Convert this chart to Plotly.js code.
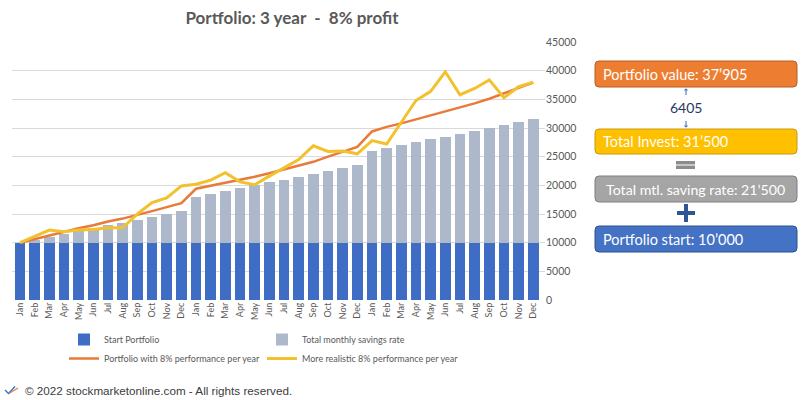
<!DOCTYPE html>
<html>
<head>
<meta charset="utf-8">
<script src="https://cdn.plot.ly/plotly-3.0.1.min.js"></script>
<style>html,body{margin:0;padding:0;background:#fff;}#chart{width:809px;height:400px;}</style>
</head>
<body>
<div id="chart"></div>
<script>
// ---- data ----
const months = ['Jan','Feb','Mar','Apr','May','Jun','Jul','Aug','Sep','Oct','Nov','Dec'];
const tickLabels = months.concat(months, months);
const startPortfolio = [10000,10000,10000,10000,10000,10000,10000,10000,10000,10000,10000,10000,
                        10000,10000,10000,10000,10000,10000,10000,10000,10000,10000,10000,10000,
                        10000,10000,10000,10000,10000,10000,10000,10000,10000,10000,10000,10000];
const monthlySavings = [0,500,1000,1500,2000,2500,3000,3500,4000,4500,5000,5500,
                        8000,8500,9000,9500,10000,10500,11000,11500,12000,12500,13000,13500,
                        16000,16500,17000,17500,18000,18500,19000,19500,20000,20500,21000,21500];
const perf8 = [10000,10650,11300,11900,12500,13050,13700,14200,14800,15500,16200,16900,
               19400,19900,20400,20900,21500,22100,22800,23400,24100,25000,25900,26700,
               29400,30200,30800,31500,32200,32900,33500,34300,35100,36100,37000,37905];
const realistic8 = [10000,11100,12200,11900,12200,12300,12600,12600,15000,17000,17800,19900,
                    20200,20900,22200,20600,20100,21600,23100,24500,26900,25900,26000,25500,
                    27800,27200,31000,34800,36400,39800,35800,36900,38400,35300,37200,38000];
const seriesNames = ['Start Portfolio','Total monthly savings rate','Portfolio with 8% performance per year','More realistic 8% performance per year'];
const boxTexts = ['Portfolio value: 37’905','Total Invest: 31’500','Total mtl. saving rate: 21’500','Portfolio start: 10’000'];
const diffText = '6405';

const xs = tickLabels.map((_, i) => i);

// ---- pixel helpers for decorations ----
const L = 12, R = 545, T = 42, B = 300;
const px = x => (x - L) / (R - L);
const py = y => (B - y) / (B - T);
function roundRect(x0, y0, x1, y1, r) {
  const P = (x, y) => px(x) + ',' + py(y);
  return 'M' + P(x0 + r, y0) + ' L' + P(x1 - r, y0) + ' Q' + P(x1, y0) + ' ' + P(x1, y0 + r) +
    ' L' + P(x1, y1 - r) + ' Q' + P(x1, y1) + ' ' + P(x1 - r, y1) +
    ' L' + P(x0 + r, y1) + ' Q' + P(x0, y1) + ' ' + P(x0, y1 - r) +
    ' L' + P(x0, y0 + r) + ' Q' + P(x0, y0) + ' ' + P(x0 + r, y0) + ' Z';
}
function rect(x0, y0, x1, y1, color) {
  return {type: 'rect', xref: 'paper', yref: 'paper', x0: px(x0), x1: px(x1), y0: py(y1), y1: py(y0),
          fillcolor: color, line: {width: 0}, layer: 'above'};
}
function line(pts, color, w) {
  let d = pts.map((p, i) => (i ? 'L' : 'M') + px(p[0]) + ',' + py(p[1])).join(' ');
  return {type: 'path', xref: 'paper', yref: 'paper', path: d, line: {color: color, width: w}, layer: 'above'};
}

const boxes = [
  {y0: 61, y1: 87, fill: '#ED7D31', border: '#B55E24'},
  {y0: 129, y1: 154, fill: '#FFC000', border: '#C89A10'},
  {y0: 176, y1: 202, fill: '#A5A5A5', border: '#7F7F7F'},
  {y0: 226, y1: 252, fill: '#4472C4', border: '#2F528F'}
];

const shapes = [];
const annotations = [];
boxes.forEach((b, i) => {
  shapes.push({type: 'path', xref: 'paper', yref: 'paper', path: roundRect(595, b.y0, 797, b.y1, 4),
               fillcolor: b.fill, line: {color: b.border, width: 1}, layer: 'above'});
  annotations.push({xref: 'paper', yref: 'paper', x: px(i === 2 ? 604 : 601), y: py((b.y0 + b.y1) / 2),
                    xanchor: 'left', yanchor: 'middle', showarrow: false, text: boxTexts[i],
                    font: {family: 'Lato, sans-serif', size: i === 2 ? 14.2 : 14.5, color: '#ffffff'}});
});
// small arrows
shapes.push(line([[686, 89], [686, 95]], '#5B7FC4', 1.2));
shapes.push(line([[684.5, 90.5], [686, 89], [687.5, 90.5]], '#5B7FC4', 1.2));
shapes.push(line([[686, 121], [686, 127]], '#5B7FC4', 1.2));
shapes.push(line([[684.5, 125.5], [686, 127], [687.5, 125.5]], '#5B7FC4', 1.2));
annotations.push({xref: 'paper', yref: 'paper', x: px(686), y: py(107), xanchor: 'center', yanchor: 'middle',
                  showarrow: false, text: diffText, font: {family: 'Lato, sans-serif', size: 14, color: '#1F3864'}});
// equals sign
shapes.push(rect(676, 161, 695, 164.5, '#8C8C8C'));
shapes.push(rect(676, 165.5, 695, 169, '#8C8C8C'));
// plus sign
shapes.push(rect(677, 211, 695, 215, '#2F5597'));
shapes.push(rect(684, 204, 688, 222, '#2F5597'));
// footer icon
shapes.push(line([[5, 390], [8.5, 393.5], [15, 386.5]], '#2E75D6', 1.4));
shapes.push(line([[9, 393.5], [18, 388]], '#ED7D31', 1.2));
annotations.push({xref: 'paper', yref: 'paper', x: px(23), y: py(390), xanchor: 'left', yanchor: 'middle',
                  showarrow: false, text: '© 2022 stockmarketonline.com - All rights reserved.',
                  font: {family: 'Liberation Sans, Arial, sans-serif', size: 11.7, color: '#3C3C3C'}});

const traces = [
  {type: 'bar', x: xs, y: startPortfolio, name: seriesNames[0], marker: {color: '#3F6CC4', line: {width: 0}}},
  {type: 'bar', x: xs, y: monthlySavings, name: seriesNames[1], marker: {color: '#ADB9CA', line: {width: 0}}},
  {type: 'scatter', mode: 'lines', x: xs, y: perf8, name: seriesNames[2], line: {color: '#E97A3A', width: 2.5}},
  {type: 'scatter', mode: 'lines', x: xs, y: realistic8, name: seriesNames[3], line: {color: '#F2C12E', width: 3}}
];

const layout = {
  width: 809, height: 400,
  margin: {l: L, r: 809 - R, t: T, b: 400 - B, pad: 0},
  paper_bgcolor: '#ffffff', plot_bgcolor: '#ffffff',
  barmode: 'stack', bargap: 0.26,
  showlegend: true,
  title: {text: '<b>Portfolio: 3 year  -  8% profit</b>', x: px(292), xref: 'paper', xanchor: 'center',
          y: 1 - 18 / 400, yanchor: 'middle',
          font: {family: 'Lato, sans-serif', size: 17, color: '#595959'}},
  xaxis: {range: [-0.55, 35.8], tickmode: 'array', tickvals: xs, ticktext: tickLabels, tickangle: -90,
          tickfont: {family: 'Lato, sans-serif', size: 9, color: '#595959'}, showgrid: false, zeroline: false,
          showline: false, ticks: ''},
  yaxis: {side: 'right', range: [0, 45000], dtick: 5000, tickformat: 'd', gridcolor: '#D9D9D9', gridwidth: 1,
          zeroline: false, showline: false, ticks: '',
          tickfont: {family: 'Lato, sans-serif', size: 10.5, color: '#595959'}},
  legend: {orientation: 'h', x: px(64), xanchor: 'left', y: py(325), yanchor: 'top', traceorder: 'normal',
           entrywidth: 153, entrywidthmode: 'pixels', itemwidth: 30, tracegroupgap: 0,
           font: {family: 'Lato, sans-serif', size: 9, color: '#595959'}, bgcolor: 'rgba(0,0,0,0)'},
  shapes: shapes,
  annotations: annotations
};

Plotly.newPlot('chart', traces, layout, {displayModeBar: false, staticPlot: true});
</script>
</body>
</html>
